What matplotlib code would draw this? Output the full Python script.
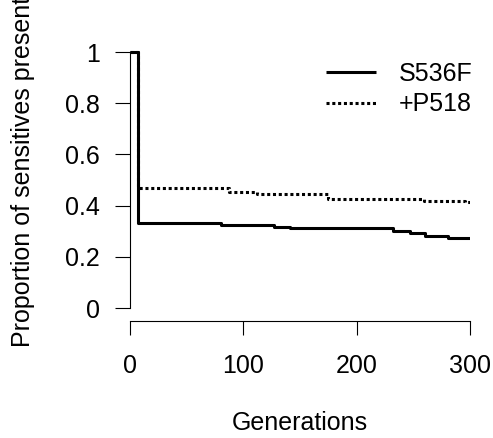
import matplotlib
matplotlib.use("Agg")
import matplotlib.pyplot as plt

# step data (generation where each level starts)
s536f_gen = [0, 7, 80, 127, 141, 232, 247, 260, 281, 300]
s536f_prop = [1.0, 0.333, 0.324, 0.318, 0.311, 0.301, 0.292, 0.282, 0.272, 0.272]

p518_gen = [0, 7, 87, 112, 175, 259, 296, 300]
p518_prop = [1.0, 0.468, 0.454, 0.444, 0.426, 0.419, 0.413, 0.413]

x_ticks = [0, 100, 200, 300]
y_ticks = [0, 0.2, 0.4, 0.6, 0.8, 1]
y_tick_labels = ["0", "0.2", "0.4", "0.6", "0.8", "1"]

plt.rcParams['font.family'] = ['Liberation Sans', 'DejaVu Sans']
FS = 18

W, H = 493, 438
fig = plt.figure(figsize=(W / 100, H / 100), dpi=100)
ax = fig.add_axes([130 / W, (H - 320.8) / H, 340 / W, 279 / H])

ax.step(s536f_gen, s536f_prop, where='post', color='black', lw=2.2,
        solid_capstyle='butt', label='S536F')
ax.step(p518_gen, p518_prop, where='post', color='black', lw=2.2,
        linestyle=(0, (1.0, 0.9)), dash_capstyle='butt', label='+P518')

ax.set_xlim(0, 300)
ax.set_ylim(-0.05, 1.04)

for side in ['top', 'right']:
    ax.spines[side].set_visible(False)
ax.spines['left'].set_bounds(0, 1)
ax.spines['bottom'].set_bounds(0, 300)
ax.spines['left'].set_linewidth(0.8)
ax.spines['bottom'].set_linewidth(0.8)

ax.set_xticks(x_ticks)
ax.set_xticklabels([str(t) for t in x_ticks])
ax.set_yticks(y_ticks)
ax.set_yticklabels(y_tick_labels)
ax.tick_params(axis='x', length=10, width=0.8, pad=14, labelsize=FS)
ax.tick_params(axis='y', length=10.5, width=0.8, pad=11, labelsize=FS)

fig.text(0.5 * (130 + 470) / W, (H - 423) / H, 'Generations',
         ha='center', va='center', fontsize=FS)
fig.text(23 / W, (H - 347) / H, 'Proportion of sensitives present',
         rotation=90, ha='center', va='bottom', fontsize=FS)

ax.legend(loc='upper left', bbox_to_anchor=(326 / W, (H - 62) / H),
          bbox_transform=fig.transFigure, frameon=False, fontsize=FS,
          handlelength=2.0, handletextpad=0.9, labelspacing=0.25,
          borderpad=0, borderaxespad=0)

fig.savefig('out.png', dpi=100)
